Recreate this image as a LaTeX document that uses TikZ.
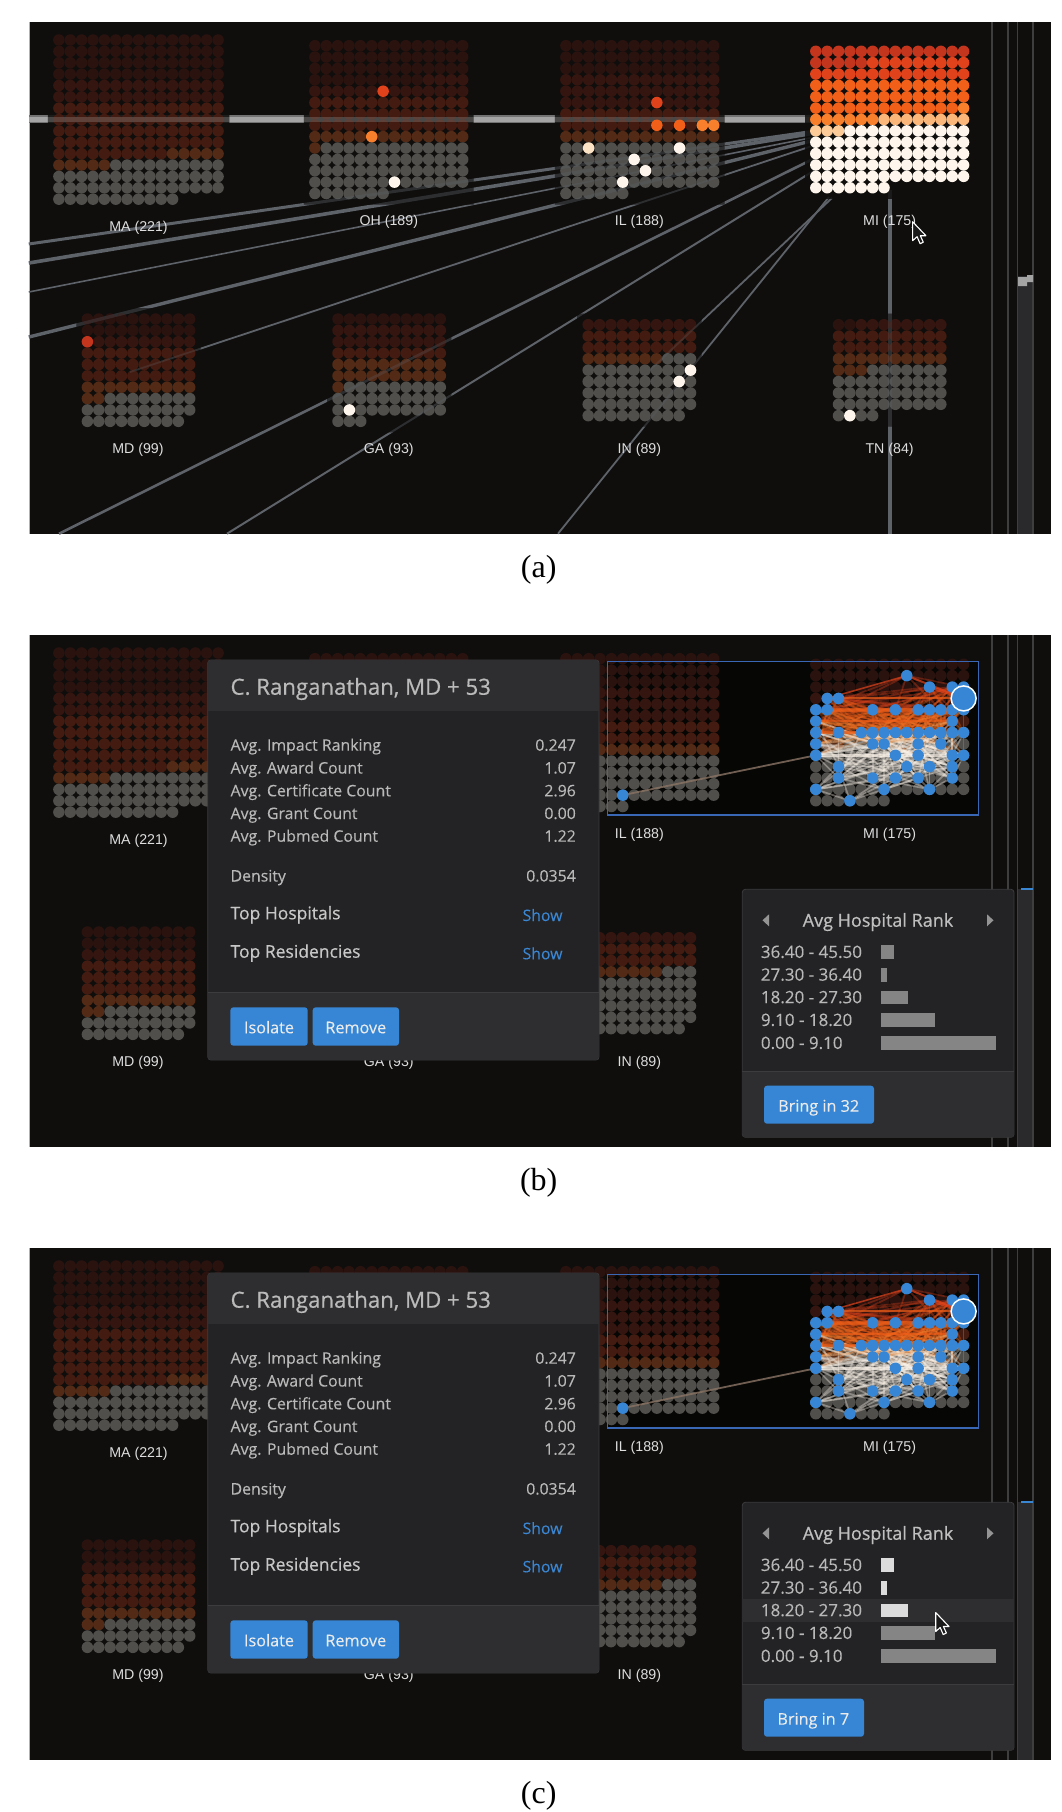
\documentclass[tikz,border=0pt]{standalone}
\usepackage{fontspec}
\setmainfont{Liberation Sans}
\newfontfamily\uifont[FakeBold=0.2]{Open Sans}
\newfontfamily\uihead[FakeBold=0.6]{Open Sans}
\newfontfamily\capfont{Liberation Serif}
\definecolor{panelbg}{HTML}{0F0E0D}
\definecolor{tA}{HTML}{2A120F}
\definecolor{tB}{HTML}{35150F}
\definecolor{tC}{HTML}{441B10}
\definecolor{tD}{HTML}{532A15}
\definecolor{tE}{HTML}{504F4C}
\definecolor{hRed}{HTML}{E0431B}
\definecolor{hDeep}{HTML}{C4351E}
\definecolor{hOrg}{HTML}{F15F18}
\definecolor{hAmb}{HTML}{F8802C}
\definecolor{hTan}{HTML}{FBB67A}
\definecolor{hPeach}{HTML}{FDCB98}
\definecolor{hCream}{HTML}{FEF6EC}
\definecolor{linkc}{HTML}{5E6269}
\definecolor{stripc}{HTML}{A4A4A4}
\definecolor{gridln}{HTML}{3E3E3E}
\definecolor{bandc}{HTML}{2A2A2C}
\definecolor{dlgbody}{HTML}{232325}
\definecolor{dlghead}{HTML}{2E2E30}
\definecolor{dlgline}{HTML}{3C3C3E}
\definecolor{btnblue}{HTML}{3686D5}
\definecolor{linkblue}{HTML}{3A86D2}
\definecolor{barmid}{HTML}{858585}
\definecolor{barlight}{HTML}{DCDCDC}
\definecolor{boxblue}{HTML}{3A67B5}
\definecolor{tanlink}{HTML}{8A7464}
\newcommand\stepu{11.37}
\newcommand\dotrad{5.75pt}
% state positions (first dot)
\newcommand\MAx{58.9}\newcommand\MAy{40}
\newcommand\OHx{314.9}\newcommand\OHy{45.7}
\newcommand\ILx{565.9}\newcommand\ILy{45.7}
\newcommand\MIx{815.8}\newcommand\MIy{51.3}
\newcommand\MDx{87.4}\newcommand\MDy{319}
\newcommand\GAx{338}\newcommand\GAy{319}
\newcommand\INx{588.2}\newcommand\INy{324.7}
\newcommand\TNx{838.5}\newcommand\TNy{324.7}
% x0 y0 cols count t1 t2 t3 t4
\newcommand\stategrid[8]{%
  \foreach \ii in {1,...,#4}{%
    \pgfmathtruncatemacro\kk{\ii-1}%
    \pgfmathtruncatemacro\rr{floor(\kk/#3)}%
    \pgfmathtruncatemacro\cc{\kk-\rr*#3}%
    \ifnum\kk<#5 \def\dc{tA}\else\ifnum\kk<#6 \def\dc{tB}\else\ifnum\kk<#7 \def\dc{tC}\else\ifnum\kk<#8 \def\dc{tD}\else\def\dc{tE}\fi\fi\fi\fi
    \fill[\dc] ({#1+\cc*\stepu},{#2+\rr*\stepu}) circle[radius=\dotrad];
  }}
\newcommand\hl[5]{\fill[#5] ({#1+#3*\stepu},{#2+#4*\stepu}) circle[radius=\dotrad];}
\newcommand\MAgrid{\stategrid{\MAx}{\MAy}{15}{221}{60}{90}{160}{170}}
\newcommand\OHgrid{\stategrid{\OHx}{\OHy}{14}{189}{52}{70}{112}{127}}
\newcommand\ILgrid{\stategrid{\ILx}{\ILy}{14}{188}{42}{84}{112}{126}}
\newcommand\MDgrid{\stategrid{\MDx}{\MDy}{10}{99}{20}{30}{60}{72}}
\newcommand\GAgrid{\stategrid{\GAx}{\GAy}{10}{93}{10}{30}{40}{61}}
\newcommand\INgrid{\stategrid{\INx}{\INy}{10}{89}{0}{10}{30}{37}}
\newcommand\TNgrid{\stategrid{\TNx}{\TNy}{10}{84}{2}{10}{30}{43}}
\newcommand\MIdim{\stategrid{\MIx}{\MIy}{14}{175}{42}{60}{84}{101}}
\newcommand\MIbright{%
  \foreach \ii in {1,...,175}{%
    \pgfmathtruncatemacro\kk{\ii-1}%
    \pgfmathtruncatemacro\rr{floor(\kk/14)}%
    \pgfmathtruncatemacro\cc{\kk-\rr*14}%
    \ifnum\kk<19 \def\dc{hDeep}\else\ifnum\kk<42 \def\dc{hRed}\else\ifnum\kk<83 \def\dc{hOrg}\else\ifnum\kk<90 \def\dc{hAmb}\else\ifnum\kk<98 \def\dc{hTan}\else\ifnum\kk<101 \def\dc{hPeach}\else\def\dc{hCream}\fi\fi\fi\fi\fi\fi
    \fill[\dc] ({\MIx+\cc*\stepu},{\MIy+\rr*\stepu}) circle[radius=\dotrad];
  }}
\newcommand\statelabel[4]{\node[statelbl] (#1) at (#2,#3) {#4};}
\newcommand\basepanel{%
  \fill[panelbg] (28.8,22) rectangle (1051,533.7);
  \draw[gray!60,line width=.6pt] (28.8,22) -- (28.8,533.7);
}
\newcommand\rightcols{%
  \foreach \xx in {992,1008,1017.7,1033}{\draw[gridln,line width=1.2pt] (\xx,22) -- (\xx,533.7);}
}
\newcommand\avgrow[3]{\node[uitxt,anchor=base west] (#1l) at (230.4,#2) {#3};}
\newcommand\avgval[3]{\node[uitxt,anchor=base east] (#1v) at (576,#2) {#3};}
\newcommand\dialog{%
  \fill[dlgbody,draw=dlgline,rounded corners=3pt,line width=.8pt] (207.8,47) rectangle (599,447);
  \begin{scope}
    \clip[rounded corners=3pt] (207.8,47) rectangle (599,447);
    \fill[dlghead] (207.8,47) rectangle (599,97.7);
    \fill[dlghead] (207.8,379.7) rectangle (599,447);
  \end{scope}
  \draw[dlgline,line width=.8pt] (207.8,379.7) -- (599,379.7);
  \node[titletxt,anchor=base west] (dtitle) at (230.4,81.7) {C. Ranganathan, MD + 53};
  \avgrow{ra}{137.7}{Avg. Impact Ranking}\avgval{ra}{137.7}{0.247}
  \avgrow{rb}{160.5}{Avg. Award Count}\avgval{rb}{160.5}{1.07}
  \avgrow{rc}{183.3}{Avg. Certificate Count}\avgval{rc}{183.3}{2.96}
  \avgrow{rd}{206}{Avg. Grant Count}\avgval{rd}{206}{0.00}
  \avgrow{re}{228.7}{Avg. Pubmed Count}\avgval{re}{228.7}{1.22}
  \avgrow{rf}{268.5}{Density}\avgval{rf}{268.5}{0.0354}
  \node[headtxt,anchor=base west] (th) at (230.4,306.3) {Top Hospitals};
  \node[headtxt,anchor=base west] (tr) at (230.4,344.7) {Top Residencies};
  \node[showtxt,anchor=base west] (sh) at (522.4,308) {Show};
  \node[showtxt,anchor=base west] (sr) at (522.4,346.3) {Show};
  \fill[btnblue,rounded corners=3pt] (230.4,394.3) rectangle (307.7,432.7);
  \fill[btnblue,rounded corners=3pt] (312.7,394.3) rectangle (399,432.7);
  \node[btntxt,anchor=base] (bi) at (269,420.3) {Isolate};
  \node[btntxt,anchor=base] (br) at (355.8,420.3) {Remove};
}
% button text, button right x, button centre x, colour of the three upper bars, extra code
\newcommand\popup[5]{%
  \fill[dlgbody,draw=dlgline,rounded corners=3pt,line width=.8pt] (742.3,276.3) rectangle (1014,524.3);
  \begin{scope}
    \clip[rounded corners=3pt] (742.3,276.3) rectangle (1014,524.3);
    \fill[dlghead] (742.3,458) rectangle (1014,524.3);
    #5
  \end{scope}
  \draw[dlgline,line width=.8pt] (742.3,458) -- (1014,458);
  \node[poptitle,anchor=base] (pt) at (878,313.7) {Avg Hospital Rank};
  \fill[arrowgrey] (769,301.3) -- (769,313.3) -- (762.5,307.3) -- cycle;
  \fill[arrowgrey] (987,301.3) -- (987,313.3) -- (993.5,307.3) -- cycle;
  \foreach \nm/\yy/\tx/\barw/\cl in {a/339/{36.40 - 45.50}/12.7/#4,b/361.7/{27.30 - 36.40}/5.7/#4,c/384.3/{18.20 - 27.30}/27/#4,d/407/{9.10 - 18.20}/54/barmid,e/430/{0.00 - 9.10}/115/barmid}{%
    \node[poprow,anchor=base west] (p\nm) at (760.7,\yy+5.9) {\tx};
    \fill[\cl] (881,\yy-6.8) rectangle ++(\barw,13.7);
  }
  \fill[btnblue,rounded corners=3pt] (764,472.7) rectangle (#2,510.7);
  \node[btntxt,anchor=base] (bb) at (#3,498.7) {#1};
}
\newcommand\cursorat[2]{%
  \draw[fill=black!90,draw=white,line width=1.1pt,line join=round] (#1,#2) -- ++(0,19) -- ++(4.5,-4) -- ++(3,7) -- ++(3.2,-1.5) -- ++(-3,-6.5) -- ++(5.6,0) -- cycle;
}
\newcommand\bluedots{8/1,10/2,12/2,13/2,1/3,2/3,0/4,1/4,5/4,7/4,9/4,10/4,11/4,12/4,13/4,0/5,12/5,0/6,2/6,4/6,5/6,6/6,7/6,8/6,9/6,10/6,11/6,12/6,13/6,0/7,5/7,6/7,9/7,11/7,0/8,7/8,9/8,12/8,13/8,2/9,8/9,10/9,12/9,2/10,5/10,7/10,9/10,12/10,0/11,6/11,10/11,3/12}
\newcommand\selscene{%
  \fill[black!60!panelbg] (607.3,48.7) rectangle (978.7,202);
  \ILgrid
  \MIdim
  % link IL -- MI
  \coordinate (ilblue) at ({\ILx+5*\stepu},{\ILy+12*\stepu});
  \coordinate (miedge) at ({\MIx},{\MIy+8*\stepu});
  \draw[line width=1.8pt,color=tanlink,opacity=.8] (ilblue) -- (miedge);
  % web inside MI
  \foreach \pa/\pb [count=\i] in \bluedots {%
    \foreach \pc/\pd [count=\j] in \bluedots {%
      \ifnum\j>\i
        \pgfmathtruncatemacro\sel{(mod(\i*17+\j*31,3)==0 && abs(\pb-\pd)<=4 && \pb!=\pd) || (mod(\i*13+\j*29,11)==0 && \pb==\pd) ? 1 : 0}%
        \ifnum\sel=1
          \pgfmathtruncatemacro\mm{\pb+\pd}%
          \ifnum\mm<8 \def\wc{hRed}\else\ifnum\mm<11 \def\wc{hOrg}\else\ifnum\mm<13 \def\wc{hAmb}\else\ifnum\mm<14 \def\wc{hTan}\else\def\wc{hCream}\fi\fi\fi\fi
          \draw[\wc,opacity=.34,line width=1.7pt] ({\MIx+\pa*\stepu},{\MIy+\pb*\stepu}) -- ({\MIx+\pc*\stepu},{\MIy+\pd*\stepu});
        \fi
      \fi
    }}
  \foreach \pa/\pb/\pc/\pd/\wc/\wdd in {1/4/12/4/hOrg/4,10/2/13/3/hRed/3,8/1/13/3/hRed/2,8/1/1/3/hRed/1.6,1/3/13/3/hOrg/2,0/5/12/5/hOrg/1.6,0/6/5/6/hOrg/2.5,0/8/12/8/hCream/3}{%
    \draw[\wc,opacity=.7,line width=\wdd pt] ({\MIx+\pa*\stepu},{\MIy+\pb*\stepu}) -- ({\MIx+\pc*\stepu},{\MIy+\pd*\stepu});
  }
  \foreach \pa/\pb in \bluedots {\fill[btnblue] ({\MIx+\pa*\stepu},{\MIy+\pb*\stepu}) circle[radius=\dotrad];}
  \fill[btnblue] (ilblue) circle[radius=\dotrad];
  \draw[boxblue,line width=1.2pt] (607.3,48.7) rectangle (978.7,202);
  \fill[btnblue,draw=white,line width=1.5pt] ({\MIx+13*\stepu},{\MIy+3*\stepu}) circle[radius=12.5pt];
}
\newcommand\otherdim{\MAgrid\OHgrid\MDgrid\GAgrid\INgrid\TNgrid}
\newcommand\dimlabels{%
  \statelabel{lma}{138.5}{231}{MA (221)}
  \statelabel{lga}{388.8}{453.3}{GA (93)}
  \statelabel{lmd}{138}{453.3}{MD (99)}
  \statelabel{lin}{639.4}{453.3}{IN (89)}
  \statelabel{lil}{639.4}{225.2}{IL (188)}
  \statelabel{lmi}{889.6}{225.2}{MI (175)}
}
\newcommand\bandpart{%
  \fill[bandc] (1017.7,275.5) rectangle (1033,533.7);
  \rightcols
}
\newcommand\panelBC[5]{%
  \basepanel
  \otherdim
  \selscene
  \dimlabels
  \bandpart
  \fill[linkblue] (1021,274.7) rectangle (1033,276.7);
  \dialog
  \popup{#1}{#2}{#3}{#4}{#5}
}
\tikzset{
  statelbl/.style={anchor=base,text=black!13,font=\fontsize{14.2}{15}\selectfont,inner sep=0pt},
  uitxt/.style={text=black!28,font=\uifont\fontsize{15.85}{17}\selectfont,inner sep=0pt},
  poprow/.style={text=black!28,font=\uifont\fontsize{17}{18}\selectfont,inner sep=0pt},
  titletxt/.style={text=black!27,font=\uihead\fontsize{22.2}{24}\selectfont,inner sep=0pt},
  headtxt/.style={text=black!22,font=\uihead\fontsize{17.5}{18}\selectfont,inner sep=0pt},
  showtxt/.style={text=linkblue,font=\uifont\fontsize{15.8}{17}\selectfont,inner sep=0pt},
  btntxt/.style={text=white!92!black,font=\uifont\fontsize{16.2}{17}\selectfont,inner sep=0pt},
  poptitle/.style={text=black!25,font=\uihead\fontsize{18}{19}\selectfont,inner sep=0pt},
  captxt/.style={text=black,font=\capfont\fontsize{32}{34}\selectfont,inner sep=0pt},
  arrowgrey/.style={fill=black!42},
  link/.style={linkc,line cap=butt},
}
\begin{document}
\begin{tikzpicture}[x=1pt,y=-1pt]
\useasboundingbox (0,0) rectangle (1062,1812);
\fill[white] (0,0) rectangle (1062,1812);
% ---------- panel (a)
\basepanel
\coordinate (l1a) at (28.8,244);  \coordinate (l1b) at (815,131);
\coordinate (l2a) at (28.8,263);  \coordinate (l2b) at (815,133);
\coordinate (l3a) at (28.8,292);  \coordinate (l3b) at (815,137);
\coordinate (l4a) at (28.8,337);  \coordinate (l4b) at (815,140);
\coordinate (l5a) at (130,372);   \coordinate (l5b) at (815,145);
\coordinate (l6a) at (59,533.7);  \coordinate (l6b) at (815,158);
\coordinate (l7a) at (227,533.7); \coordinate (l7b) at (815,170);
\coordinate (l8a) at (650,370);   \coordinate (l8b) at (832,198);
\coordinate (l9a) at (558,533.7); \coordinate (l9b) at (829,197);
\coordinate (l10a) at (889.6,190);\coordinate (l10b) at (889.6,533.7);
\coordinate (l0a) at (28.8,119.3);\coordinate (l0b) at (815,119.3);
\newcommand\alllinks[1]{%
  \foreach \n/\w in {1/3,2/3.6,3/1.6,4/3.4,5/1.8,6/2.6,7/2,8/1.8,9/1.8,10/4}{\draw[link,line width=\w pt,#1] (l\n a) -- (l\n b);}
  \draw[stripc,line width=5.5pt,#1] (l0a) -- (l0b);
}
\draw[black!55,line width=8pt] (l0a) -- (l0b);
\alllinks{}
\newcommand\haloclip{(47.9,29) rectangle (229.4,210) (303.9,34.7) rectangle (473.7,204.5) (554.9,34.7) rectangle (724.7,204.5) (76.4,308) rectangle (200.7,432.3) (327,308) rectangle (451.3,432.3) (577.2,313.7) rectangle (701.5,426.7) (827.5,313.7) rectangle (951.8,426.7)}
\fill[panelbg,opacity=.85] \haloclip;
\fill[panelbg,opacity=.85] (804.8,40.3) rectangle (974.6,198.7);
\MAgrid\OHgrid\ILgrid\MDgrid\GAgrid\INgrid\TNgrid\MIbright
\begin{scope}
  \clip \haloclip;
  \alllinks{opacity=.28}
\end{scope}
% highlighted dots
\hl{\OHx}{\OHy}{6}{4}{hRed}\hl{\OHx}{\OHy}{5}{8}{hAmb}\hl{\OHx}{\OHy}{7}{12}{hCream}
\hl{\ILx}{\ILy}{8}{5}{hRed}\hl{\ILx}{\ILy}{8}{7}{hOrg}\hl{\ILx}{\ILy}{10}{7}{hOrg}\hl{\ILx}{\ILy}{12}{7}{hAmb}\hl{\ILx}{\ILy}{13}{7}{hAmb}
\hl{\ILx}{\ILy}{2}{9}{hPeach!45!hCream}\hl{\ILx}{\ILy}{10}{9}{hCream}\hl{\ILx}{\ILy}{6}{10}{hCream}\hl{\ILx}{\ILy}{7}{11}{hCream}\hl{\ILx}{\ILy}{5}{12}{hCream}
\hl{\MDx}{\MDy}{0}{2}{hDeep}
\hl{\GAx}{\GAy}{1}{8}{hCream}
\hl{\INx}{\INy}{9}{4}{hCream}\hl{\INx}{\INy}{8}{5}{hCream}
\hl{\TNx}{\TNy}{1}{8}{hCream}
\statelabel{alma}{138.5}{231}{MA (221)}
\statelabel{aloh}{388.8}{225.2}{OH (189)}
\statelabel{alil}{639.4}{225.2}{IL (188)}
\statelabel{almi}{889.6}{225.2}{MI (175)}
\statelabel{almd}{138}{453.3}{MD (99)}
\statelabel{alga}{388.8}{453.3}{GA (93)}
\statelabel{alin}{639.4}{453.3}{IN (89)}
\statelabel{altn}{889.6}{453.3}{TN (84)}
\bandpart
\fill[stripc] (1018,277) -- (1027,277) -- (1027,275) -- (1033,275) -- (1033,282) -- (1027,282) -- (1027,286) -- (1018,286) -- cycle;
\cursorat{912.6}{221.7}
\node[captxt] (capa) at (538.7,569.7) {(a)};
% ---------- panel (b)
\begin{scope}[yshift=-613pt]
  \panelBC{Bring in 32}{874}{818.7}{barmid}{}
  \node[captxt] (capb) at (538.7,569.7) {(b)};
\end{scope}
% ---------- panel (c)
\begin{scope}[yshift=-1226pt]
  \panelBC{Bring in 7}{864}{813.3}{barlight}{\fill[dlghead] (742.3,372.7) rectangle (1014,396);}
  \cursorat{935.7}{386.5}
  \node[captxt] (capc) at (538.7,569.7) {(c)};
\end{scope}
\end{tikzpicture}
\end{document}
